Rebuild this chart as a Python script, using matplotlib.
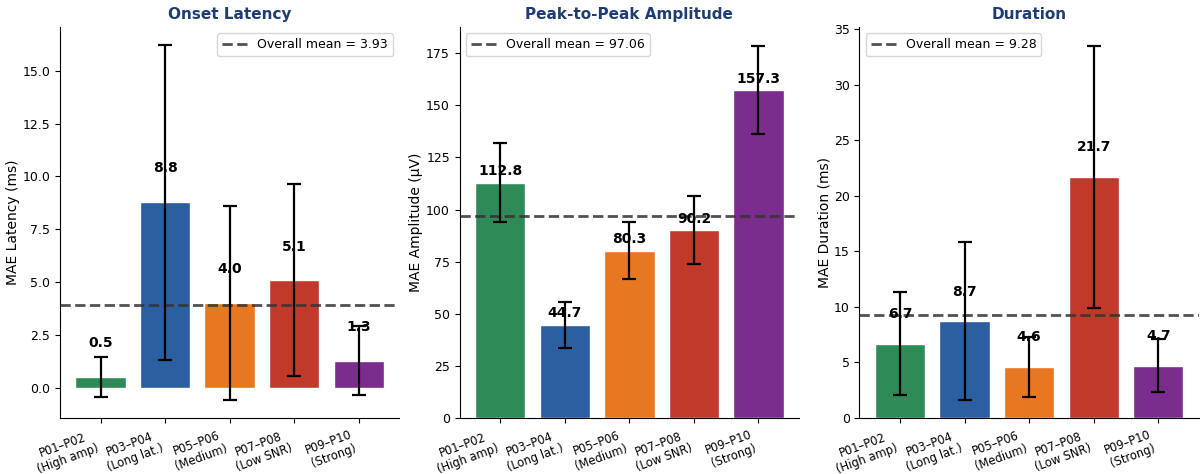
import matplotlib.pyplot as plt
import numpy as np

groups = ["P01–P02\n(High amp)", "P03–P04\n(Long lat.)", "P05–P06\n(Medium)",
          "P07–P08\n(Low SNR)", "P09–P10\n(Strong)"]
colors = ["#2e8b57", "#2c5fa0", "#e87722", "#c0392b", "#7b2d8e"]

onset_mae = [0.50, 8.78, 4.00, 5.08, 1.28]
onset_sd = [0.93, 7.45, 4.60, 4.55, 1.65]

amp_mae = [112.8, 44.7, 80.3, 90.2, 157.3]
amp_sd = [19.0, 11.2, 13.8, 16.5, 21.3]

dur_mae = [6.7, 8.7, 4.6, 21.7, 4.7]
dur_sd = [4.6, 7.1, 2.7, 11.8, 2.4]

panels = [
    ("Onset Latency", "MAE Latency (ms)", onset_mae, onset_sd, 1.6, "upper right"),
    ("Peak-to-Peak Amplitude", "MAE Amplitude (µV)", amp_mae, amp_sd, 5.5, "upper left"),
    ("Duration", "MAE Duration (ms)", dur_mae, dur_sd, 2.65, "upper left"),
]

fig, axes = plt.subplots(1, 3, figsize=(12, 4.74), dpi=100)
fig.subplots_adjust(left=0.05, right=0.999, bottom=0.118, top=0.943, wspace=0.178)

x = np.arange(len(groups))
for ax, (title, ylabel, vals, sds, off, loc) in zip(axes, panels):
    ax.bar(x, vals, width=0.78, color=colors, edgecolor="white", linewidth=1, zorder=2)
    ax.errorbar(x, vals, yerr=sds, fmt="none", ecolor="black", elinewidth=1.6,
                capsize=5, capthick=1.6, zorder=4)
    mean = np.mean(vals)
    ax.axhline(mean, color="#333333", linestyle="--", linewidth=2, alpha=0.85,
               zorder=3, label=f"Overall mean = {mean:.2f}")
    for xi, v in zip(x, vals):
        ax.text(xi, v + off, f"{v:.1f}", ha="center", va="center",
                fontsize=10, fontweight="bold", zorder=5)
    ax.set_title(title, fontsize=11, fontweight="bold", color="#1f3d73")
    ax.set_ylabel(ylabel, fontsize=10, labelpad=2)
    ax.set_xticks(x)
    ax.set_xticklabels(groups, rotation=20, ha="right", fontsize=8.3,
                       multialignment="center")
    ax.tick_params(axis="y", labelsize=9)
    ax.spines["top"].set_visible(False)
    ax.spines["right"].set_visible(False)
    ax.legend(loc=loc, fontsize=9)

fig.savefig("out.png")
